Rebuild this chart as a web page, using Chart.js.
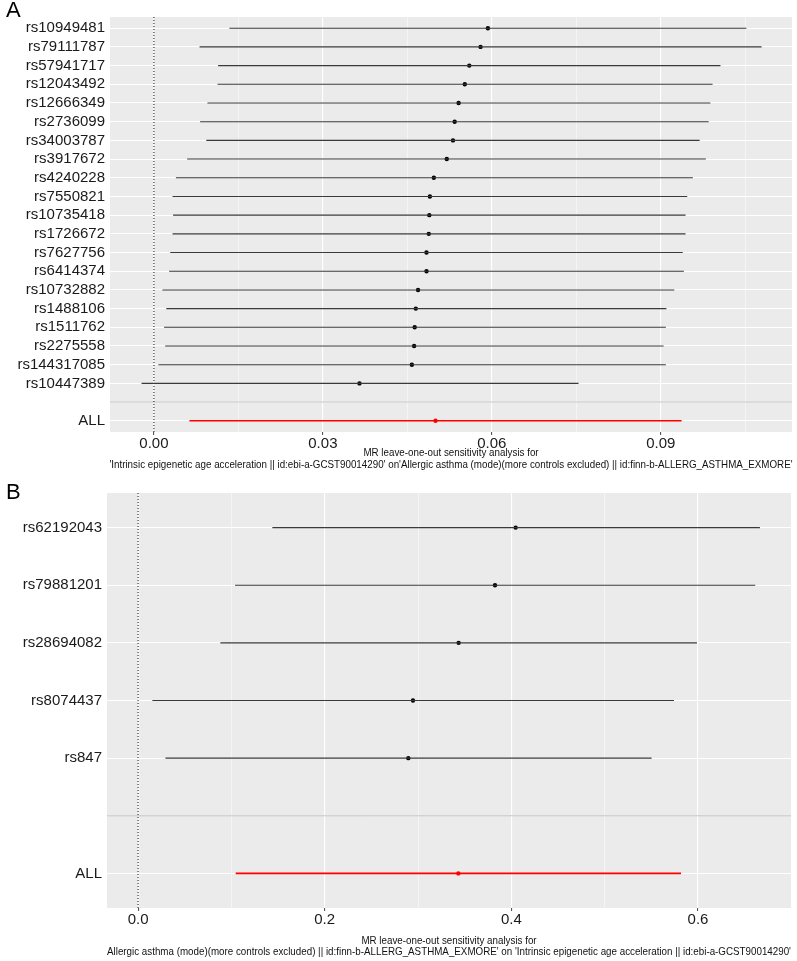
<!DOCTYPE html>
<html>
<head>
<meta charset="utf-8">
<script src="https://cdn.jsdelivr.net/npm/chart.js@4.4.0/dist/chart.umd.min.js"></script>
<style>
  body { margin: 0; background: #fff; width: 797px; height: 961px; position: relative; overflow: hidden; font-family: "Liberation Sans", Arial, sans-serif; }
  canvas { position: absolute; left: 0; }
  #cA { top: 0; }
  #cB { top: 475px; }
  .tag { position: absolute; left: 6px; font-size: 22px; color: #000; z-index: 2; }
</style>
</head>
<body>
<div class="tag" style="top:-3px">A</div>
<div class="tag" style="top:479px">B</div>
<canvas id="cA" width="797" height="475"></canvas>
<canvas id="cB" width="797" height="486"></canvas>
<script>
// ---- panel A: leave-one-out, age acceleration -> allergic asthma
const snpsA = ["rs10949481", "rs79111787", "rs57941717", "rs12043492", "rs12666349", "rs2736099", "rs34003787",
  "rs3917672", "rs4240228", "rs7550821", "rs10735418", "rs1726672", "rs7627756", "rs6414374", "rs10732882",
  "rs1488106", "rs1511762", "rs2275558", "rs144317085", "rs10447389"];
const bA  = [0.0593, 0.0580, 0.0560, 0.0552, 0.0541, 0.0534, 0.0531, 0.0520, 0.0497, 0.0490,
             0.0489, 0.0488, 0.0484, 0.0484, 0.0469, 0.0465, 0.0463, 0.0462, 0.0458, 0.0365];
const loA = [0.0134, 0.0081, 0.0114, 0.0113, 0.0095, 0.0082, 0.0093, 0.0059, 0.0039, 0.0033,
             0.0034, 0.0033, 0.0029, 0.0027, 0.0015, 0.0022, 0.0018, 0.0020, 0.0008, -0.0022];
const hiA = [0.1052, 0.1079, 0.1006, 0.0992, 0.0988, 0.0985, 0.0969, 0.0980, 0.0957, 0.0947,
             0.0944, 0.0944, 0.0939, 0.0941, 0.0924, 0.0910, 0.0909, 0.0905, 0.0909, 0.0754];
const allA = [0.0500, 0.0063, 0.0937]; // b, lo, hi
const xMajorA = [0, 0.03, 0.06, 0.09];
const xMinorA = [0.015, 0.045, 0.075, 0.105];
const xLabelsA = ["0.00", "0.03", "0.06", "0.09"];
const titleA = ["MR leave-one-out sensitivity analysis for",
  "'Intrinsic epigenetic age acceleration || id:ebi-a-GCST90014290' on'Allergic asthma (mode)(more controls excluded) || id:finn-b-ALLERG_ASTHMA_EXMORE'"];

// ---- panel B: reverse direction
const snpsB = ["rs62192043", "rs79881201", "rs28694082", "rs8074437", "rs847"];
const bB  = [0.4046, 0.3825, 0.3435, 0.2946, 0.2896];
const loB = [0.1439, 0.1039, 0.0882, 0.0153, 0.0293];
const hiB = [0.6664, 0.6614, 0.5989, 0.5743, 0.5503];
const allB = [0.3432, 0.1046, 0.5818];
const xMajorB = [0, 0.2, 0.4, 0.6];
const xMinorB = [0.1, 0.3, 0.5];
const xLabelsB = ["0.0", "0.2", "0.4", "0.6"];
const titleB = ["MR leave-one-out sensitivity analysis for",
  "Allergic asthma (mode)(more controls excluded) || id:finn-b-ALLERG_ASTHMA_EXMORE' on 'Intrinsic epigenetic age acceleration || id:ebi-a-GCST90014290'"];

const FONT = '"Liberation Sans", Arial, sans-serif';

const panelBg = {
  id: "panelBg",
  beforeDraw(chart) {
    const { ctx, chartArea: a } = chart;
    ctx.save();
    ctx.fillStyle = "#EBEBEB";
    ctx.fillRect(a.left, a.top, a.right - a.left, a.bottom - a.top);
    ctx.restore();
  }
};

const refLines = {
  id: "refLines",
  beforeDatasetsDraw(chart, args, opts) {
    const { ctx, chartArea: a, scales: { x, y } } = chart;
    ctx.save();
    const yy = y.getPixelForValue(opts.blankRow);
    ctx.strokeStyle = "#C4C4C4";
    ctx.lineWidth = 1;
    ctx.beginPath(); ctx.moveTo(a.left, yy); ctx.lineTo(a.right, yy); ctx.stroke();
    const xx = x.getPixelForValue(0);
    ctx.strokeStyle = "#111";
    ctx.lineWidth = 1;
    ctx.setLineDash([1, 2]);
    ctx.beginPath(); ctx.moveTo(xx, a.top); ctx.lineTo(xx, a.bottom); ctx.stroke();
    ctx.restore();
  }
};

// two-line x title, drawn a bit condensed like the original
const xTitle = {
  id: "xTitle",
  afterDraw(chart, args, opts) {
    const { ctx, chartArea: a } = chart;
    const cx = (a.left + a.right) / 2;
    ctx.save();
    ctx.font = "11px " + FONT;
    ctx.fillStyle = "#111";
    ctx.textAlign = "center";
    ctx.textBaseline = "middle";
    opts.lines.forEach((t, i) => {
      ctx.save();
      ctx.translate(cx, a.bottom + opts.offsets[i]);
      ctx.scale(opts.squeeze, 1);
      ctx.fillText(t, 0, 0);
      ctx.restore();
    });
    ctx.restore();
  }
};

function makeChart(id, snps, b, lo, hi, all, xMin, xMax, xMajor, xMinor, xLabels, title, frame) {
  const labels = [...snps, "", "ALL"];
  const n = snps.length;
  const ciPts = [];
  snps.forEach((s, i) => {
    ciPts.push({ x: lo[i], y: i }, { x: hi[i], y: i }, { x: null, y: i });
  });
  const xTicks = [...xMajor, ...xMinor].sort((p, q) => p - q);
  const isMajor = v => xMajor.indexOf(v) >= 0;

  return new Chart(document.getElementById(id), {
    type: "scatter",
    data: {
      datasets: [
        { type: "line", data: ciPts, borderColor: "#3a3a3a", borderWidth: 1.1, pointRadius: 0, spanGaps: false },
        { data: snps.map((s, i) => ({ x: b[i], y: i })), pointRadius: 2.2, backgroundColor: "#000", borderWidth: 0 },
        { type: "line", data: [{ x: all[1], y: n + 1 }, { x: all[2], y: n + 1 }], borderColor: "#FF0000", borderWidth: 1.6, pointRadius: 0 },
        { data: [{ x: all[0], y: n + 1 }], pointRadius: 2.2, backgroundColor: "#FF0000", borderWidth: 0 }
      ]
    },
    options: {
      responsive: false,
      animation: false,
      devicePixelRatio: 1,
      layout: { padding: { top: frame.top, right: frame.right, left: 0, bottom: 0 } },
      plugins: {
        legend: { display: false },
        tooltip: { enabled: false },
        refLines: { blankRow: n },
        xTitle: { lines: title, offsets: frame.titleOffsets, squeeze: 0.89 }
      },
      scales: {
        x: {
          type: "linear",
          min: xMin,
          max: xMax,
          afterBuildTicks: s => { s.ticks = xTicks.map(v => ({ value: v })); },
          afterFit: s => { s.height = frame.xHeight; },
          ticks: {
            autoSkip: false, maxRotation: 0, padding: 0, color: "#1a1a1a",
            font: { size: 15, family: FONT },
            callback: v => { const k = xMajor.indexOf(v); return k >= 0 ? xLabels[k] : ""; }
          },
          grid: {
            color: "#FFFFFF",
            lineWidth: c => (c.tick && isMajor(c.tick.value)) ? 1.1 : 0.5,
            tickLength: 3,
            tickColor: c => (c.tick && isMajor(c.tick.value)) ? "#555" : "rgba(0,0,0,0)"
          },
          border: { display: false }
        },
        y: {
          type: "linear",
          reverse: true,
          min: -0.6,
          max: labels.length - 1 + 0.6,
          afterBuildTicks: s => { s.ticks = labels.map((l, i) => ({ value: i })); },
          afterFit: s => { s.width = frame.yWidth; },
          ticks: {
            autoSkip: false, padding: 2, color: "#1a1a1a",
            font: { size: 15, family: FONT },
            callback: v => labels[v]
          },
          grid: { color: "#FFFFFF", lineWidth: 1.1, tickLength: 3, tickColor: "rgba(0,0,0,0)" },
          border: { display: false }
        }
      }
    },
    plugins: [panelBg, refLines, xTitle]
  });
}

makeChart("cA", snpsA, bA, loA, hiA, allA, -0.0078, 0.1133, xMajorA, xMinorA, xLabelsA, titleA,
  { top: 17, right: 5, yWidth: 110, xHeight: 43, titleOffsets: [21, 33] });
makeChart("cB", snpsB, bB, loB, hiB, allB, -0.0333, 0.6997, xMajorB, xMinorB, xLabelsB, titleB,
  { top: 18, right: 6, yWidth: 107, xHeight: 53, titleOffsets: [33, 44] });
</script>
</body>
</html>
